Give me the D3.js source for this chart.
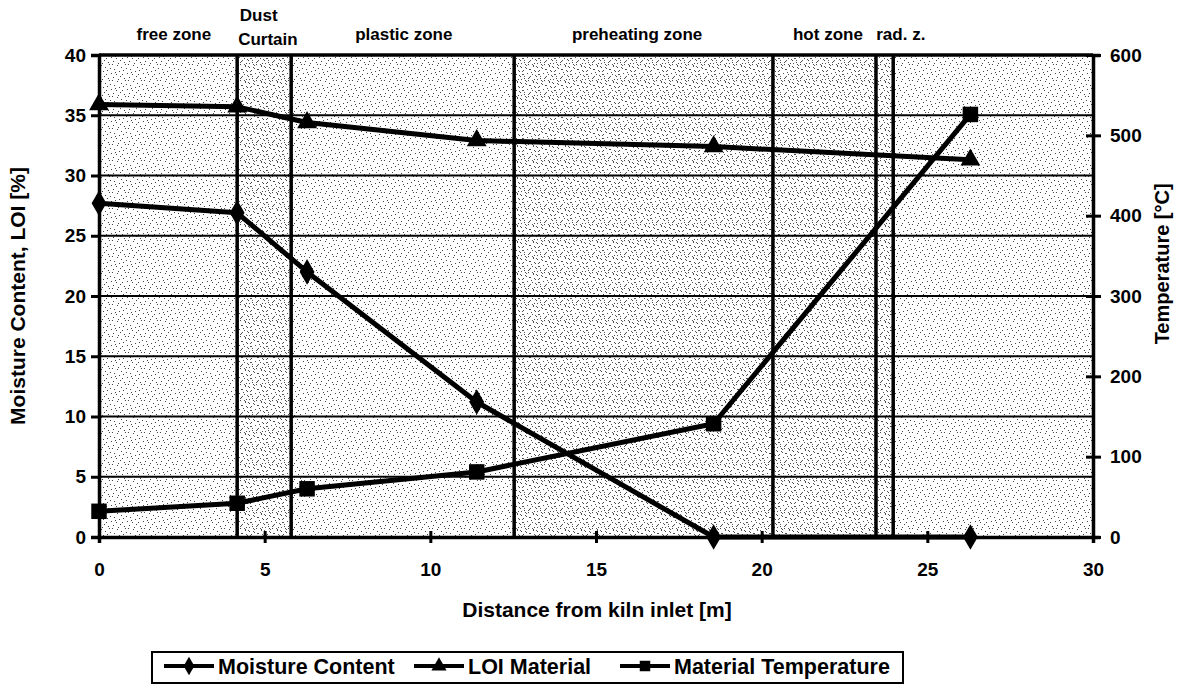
<!DOCTYPE html>
<html><head><meta charset="utf-8">
<script src="https://cdn.jsdelivr.net/npm/d3@7"></script>
<style>
body{margin:0;background:#fff;}
text{font-family:"Liberation Sans",Arial,sans-serif;font-weight:bold;fill:#000;}
</style></head>
<body><svg id="c" width="1183" height="684"></svg>
<script>
// ---- data ----
const distance = [0, 4.17, 6.28, 11.4, 18.55, 26.3];
const moisture = [27.7, 26.9, 22.0, 11.2, 0, 0];
const loi = [35.9, 35.7, 34.4, 32.9, 32.4, 31.3];
const temperature = [32, 42, 60, 81, 141, 526];
const zoneBounds = [4.17, 5.8, 12.53, 20.34, 23.45, 23.97];
const zoneNames = ["free zone", "plastic zone", "preheating zone", "hot zone", "rad. z."];
const zoneNamePos = [2.26, 9.2, 16.24, 22.0, 24.2];
const xTicks = [0, 5, 10, 15, 20, 25, 30];
const yLeftTicks = [0, 5, 10, 15, 20, 25, 30, 35, 40];
const yRightTicks = [0, 100, 200, 300, 400, 500, 600];
const seriesNames = ["Moisture Content", "LOI Material", "Material Temperature"];

const svg = d3.select("#c");
const x = d3.scaleLinear().domain([0, 30]).range([99, 1093]);
const yL = d3.scaleLinear().domain([0, 40]).range([537, 55]);
const yR = d3.scaleLinear().domain([0, 600]).range([537, 55]);

// stipple texture (fixed dot layout in a tile)
const defs = svg.append("defs");
const dotsA = [[0,0],[5,1],[9,3],[13,0],[2,5],[7,7],[11,6],[15,9],[4,10],[1,13],[8,12],[12,14],[6,15],[14,4],[10,10],[3,8]];
const pat = defs.append("pattern").attr("id", "stip").attr("patternUnits", "userSpaceOnUse")
  .attr("width", 16).attr("height", 16);
pat.append("rect").attr("width", 16).attr("height", 16).attr("fill", "#fff");
dotsA.forEach(p => pat.append("rect").attr("x", p[0]).attr("y", p[1]).attr("width", 1).attr("height", 1).attr("fill", "#444"));
const pat2 = defs.append("pattern").attr("id", "stip2").attr("patternUnits", "userSpaceOnUse")
  .attr("width", 16).attr("height", 16);
pat2.append("rect").attr("width", 16).attr("height", 16).attr("fill", "none");
dotsA.forEach(p => pat2.append("rect").attr("x", (p[0] + 8) % 16).attr("y", (p[1] + 2) % 16).attr("width", 1).attr("height", 1).attr("fill", "#555"));

svg.append("rect").attr("x", x(0)).attr("y", yL(40)).attr("width", x(30) - x(0)).attr("height", yL(0) - yL(40))
  .attr("fill", "url(#stip)");
[[zoneBounds[0], zoneBounds[1]], [zoneBounds[2], zoneBounds[5]]].forEach(z => {
  svg.append("rect").attr("x", x(z[0])).attr("y", yL(40)).attr("width", x(z[1]) - x(z[0])).attr("height", yL(0) - yL(40))
    .attr("fill", "url(#stip2)");
});

// horizontal gridlines
svg.append("g").selectAll("line").data(yLeftTicks.filter(d => d > 0 && d < 40)).join("line")
  .attr("x1", x(0)).attr("x2", x(30)).attr("y1", d => yL(d)).attr("y2", d => yL(d))
  .attr("stroke", "#000").attr("stroke-width", 2);

// zone boundary lines
svg.append("g").selectAll("line").data(zoneBounds).join("line")
  .attr("x1", d => x(d)).attr("x2", d => x(d)).attr("y1", yL(40)).attr("y2", yL(0))
  .attr("stroke", "#000").attr("stroke-width", 3.5);

// top frame
svg.append("line").attr("x1", x(0)).attr("x2", x(30)).attr("y1", yL(40)).attr("y2", yL(40)).attr("stroke", "#000").attr("stroke-width", 3.5);

// axes
const axL = svg.append("g").attr("transform", `translate(${x(0)},0)`)
  .call(d3.axisLeft(yL).tickValues(yLeftTicks).tickSize(8).tickPadding(5));
const axB = svg.append("g").attr("transform", `translate(0,${yL(0)})`)
  .call(d3.axisBottom(x).tickValues(xTicks).tickSize(6).tickPadding(20));
const axR = svg.append("g").attr("transform", `translate(${x(30)},0)`)
  .call(d3.axisRight(yR).tickValues(yRightTicks).tickSize(7).tickPadding(10));
[axL, axB, axR].forEach(a => {
  a.select(".domain").attr("stroke", "#000").attr("stroke-width", 3.5);
  a.selectAll(".tick line").attr("stroke", "#000").attr("stroke-width", 3);
  a.selectAll("text").attr("font-size", 19).attr("font-family", "Liberation Sans, Arial, sans-serif").attr("font-weight", "bold");
});
axB.selectAll(".tick line").attr("y1", -6).attr("y2", 6);
axR.selectAll(".tick line").attr("x1", -7).attr("x2", 8);

// lines and markers
const mk = (vals, ys) => distance.map((d, i) => [x(d), ys(vals[i])]);
const lineGen = d3.line();
const sets = [
  {pts: mk(moisture, yL), sym: d3.symbolDiamond, size: 190},
  {pts: mk(loi, yL), sym: d3.symbolTriangle, size: 170},
  {pts: mk(temperature, yR), sym: d3.symbolSquare, size: 240}
];
sets.forEach(s => {
  svg.append("path").attr("d", lineGen(s.pts)).attr("fill", "none").attr("stroke", "#000")
    .attr("stroke-width", 5).attr("stroke-linejoin", "round");
  svg.append("g").selectAll("path").data(s.pts).join("path")
    .attr("transform", d => `translate(${d[0]},${d[1]})`)
    .attr("d", d3.symbol().type(s.sym).size(s.size)).attr("fill", "#000");
});

// zone labels
svg.append("g").selectAll("text").data(zoneNames).join("text")
  .attr("x", (d, i) => x(zoneNamePos[i])).attr("y", 40).attr("text-anchor", "middle")
  .attr("font-size", 17).text(d => d);
svg.append("text").attr("x", x(4.25)).attr("y", 21).attr("font-size", 17).text("Dust");
svg.append("text").attr("x", x(4.2)).attr("y", 45).attr("font-size", 17).text("Curtain");

// axis titles
svg.append("text").attr("transform", `translate(25,${yL(20)}) rotate(-90)`).attr("text-anchor", "middle")
  .attr("font-size", 21).text("Moisture Content, LOI [%]");
svg.append("text").attr("transform", `translate(1169,${yR(340)}) rotate(-90)`).attr("text-anchor", "middle")
  .attr("font-size", 20).text("Temperature [°C]");
svg.append("text").attr("x", 597).attr("y", 617).attr("text-anchor", "middle")
  .attr("font-size", 21).text("Distance from kiln inlet [m]");

// legend
const lg = svg.append("g");
lg.append("rect").attr("x", 152).attr("y", 652).attr("width", 751).attr("height", 31)
  .attr("fill", "#fff").attr("stroke", "#000").attr("stroke-width", 2);
const legX = [164, 414, 620];
const legSym = [d3.symbolDiamond, d3.symbolTriangle, d3.symbolSquare];
const legSize = [100, 100, 110];
seriesNames.forEach((n, i) => {
  const g = lg.append("g").attr("transform", `translate(${legX[i]},666)`);
  g.append("line").attr("x1", 0).attr("x2", 50).attr("stroke", "#000").attr("stroke-width", 4);
  g.append("path").attr("transform", "translate(25,0)").attr("d", d3.symbol().type(legSym[i]).size(legSize[i])).attr("fill", "#000");
  g.append("text").attr("x", 54).attr("y", 8).attr("font-size", 21.5).text(n);
});
</script></body></html>
